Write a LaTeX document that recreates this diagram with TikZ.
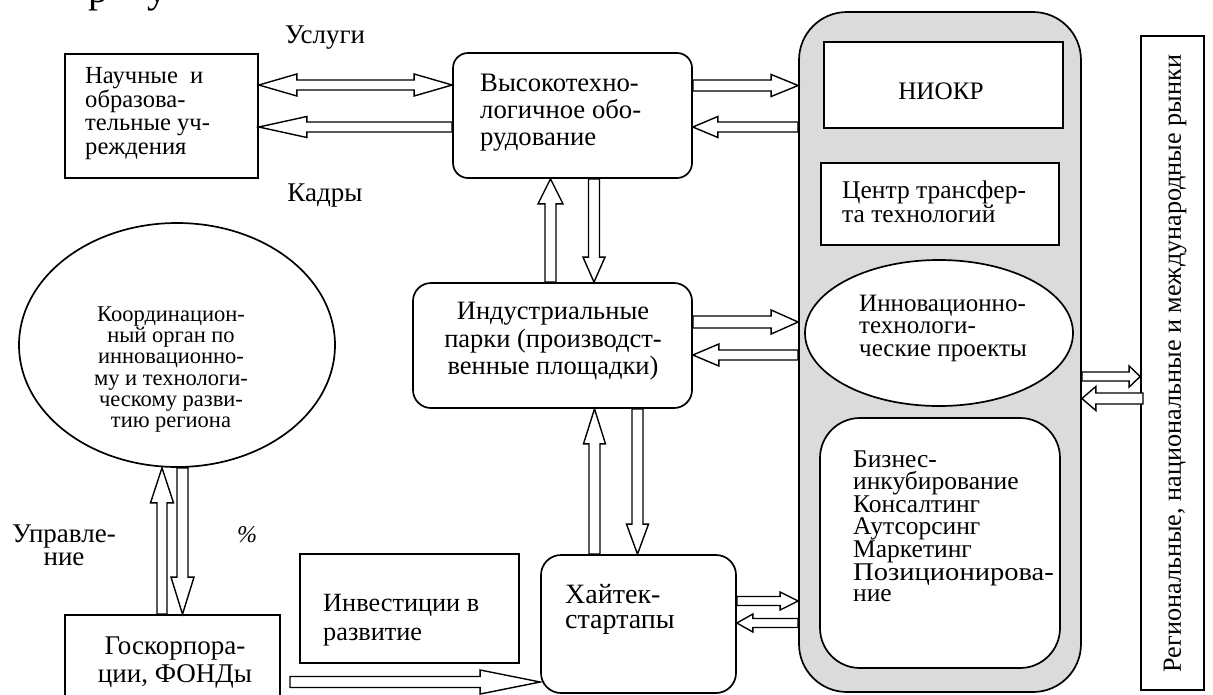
\documentclass[tikz,border=0pt]{standalone}
\usepackage{fontspec}
\setmainfont{Liberation Serif}
\newfontfamily\fntE[FakeStretch=1.12]{Liberation Serif}
\usetikzlibrary{calc,shapes.geometric}
\newcommand\fsz[2]{\fontsize{#1}{#2}\selectfont}
% single-headed fat arrow: start, end(tip), shaft half width, head half width, head length
\newcommand\fatarrow[5]{%
  \path (#1) coordinate (fas);
  \path (#2) coordinate (fae);
  \coordinate (fah) at ($(fae)!#5!(fas)$);
  \draw[fat] ($(fas)!#3!90:(fae)$) -- ($(fah)!#3!90:(fae)$) -- ($(fah)!#4!90:(fae)$) -- (fae)
    -- ($(fah)!#4!-90:(fae)$) -- ($(fah)!#3!-90:(fae)$) -- ($(fas)!#3!-90:(fae)$) -- cycle;
}
% double-headed fat arrow
\newcommand\fatdarrow[5]{%
  \path (#1) coordinate (fas);
  \path (#2) coordinate (fae);
  \coordinate (fha) at ($(fae)!#5!(fas)$);
  \coordinate (fhb) at ($(fas)!#5!(fae)$);
  \draw[fat] (fas) -- ($(fhb)!#4!90:(fae)$) -- ($(fhb)!#3!90:(fae)$) -- ($(fha)!#3!90:(fae)$)
    -- ($(fha)!#4!90:(fae)$) -- (fae) -- ($(fha)!#4!-90:(fae)$) -- ($(fha)!#3!-90:(fae)$)
    -- ($(fhb)!#3!-90:(fae)$) -- ($(fhb)!#4!-90:(fae)$) -- cycle;
}
\begin{document}
\begin{tikzpicture}[x=1pt,y=-1pt,
  shp/.style={draw, line width=1.7pt, fill=white, inner sep=0pt},
  fat/.style={draw, line width=1.4pt, fill=white, line join=miter},
  txt/.style={inner sep=0pt, align=left},
  ctxt/.style={inner sep=0pt, align=center}]
\useasboundingbox (0,0) rectangle (1213,694);

% cut-off heading fragments
\node[inner sep=0pt, anchor=base west, font=\fsz{40}{40}] (frag1) at (88,2) {р};
\node[inner sep=0pt, anchor=base west, font=\fsz{40}{40}] (frag2) at (147,2) {у};

% shapes
\node[shp, fill=black!14, rounded corners=48pt, minimum width=282pt, minimum height=680pt] (grey) at (940,352) {};
\node[shp, minimum width=193pt, minimum height=124pt] (nauch) at (161.5,116) {};
\node[shp, rounded corners=15pt, minimum width=239pt, minimum height=125pt] (vys) at (572.5,115.5) {};
\node[shp, rounded corners=18pt, minimum width=279pt, minimum height=125pt] (ind) at (552.5,345.5) {};
\node[shp, ellipse, minimum width=316pt, minimum height=244pt] (coord) at (177,345) {};
\node[shp, minimum width=215pt, minimum height=105pt] (gosk) at (172.5,667.5) {};
\node[shp, minimum width=219pt, minimum height=109pt] (inv) at (409.5,608.5) {};
\node[shp, rounded corners=20pt, minimum width=195pt, minimum height=138pt] (hai) at (638.5,624) {};
\node[shp, minimum width=239pt, minimum height=86pt] (niokr) at (943.5,85) {};
\node[shp, minimum width=238pt, minimum height=82pt] (ctt) at (940,204) {};
\node[shp, ellipse, minimum width=268pt, minimum height=146pt] (inn) at (939,333) {};
\node[shp, rounded corners=40pt, minimum width=240pt, minimum height=250pt] (biz) at (940,543) {};
\node[shp, minimum width=63pt, minimum height=654pt] (mkt) at (1172.5,363) {};

% texts
\node[txt, anchor=west, font=\fsz{24.6}{23.7}] (t-nauch) at (85,113.6) {Научные\ \ и\\образова-\\тельные уч-\\реждения};
\node[txt, anchor=west, font=\fsz{26.7}{27}] (t-vys) at (480,112.2) {Высокотехно-\\логичное обо-\\рудование};
\node[ctxt, font=\fsz{27}{27}] (t-usl) at (325,37.4) {Услуги};
\node[ctxt, font=\fsz{27}{27}] (t-kad) at (325,196) {Кадры};
\node[ctxt, font=\fsz{22.5}{21.2}] (t-coord) at (171,369.6) {Координацион-\\ный орган по\\инновационно-\\му и технологи-\\ческому разви-\\тию региона};
\node[ctxt, font=\fsz{26.5}{27.5}] (t-ind) at (553,341.2) {Индустриальные\\парки (производст-\\венные площадки)};
\node[ctxt, font=\fsz{25.2}{27}] (t-niokr) at (941,91.5) {НИОКР};
\node[txt, anchor=west, font=\fsz{25.5}{22}] (t-ctt) at (842,202) {Центр трансфер-\\та технологий};
\node[txt, anchor=west, font=\fsz{25}{22.5}] (t-inn) at (859,328) {Инновационно-\\технологи-\\ческие проекты};
\node[txt, anchor=west, font=\fsz{25.5}{21.5}] (t-biz) at (853,526.6) {Бизнес-\\инкубирование\\Консалтинг\\Аутсорсинг\\Маркетинг\\{\fntE Позиционирова-}\\ние};
\node[ctxt, font=\fsz{27}{23}] (t-upr) at (64,545.1) {Управле-\\ние};
\node[ctxt, font=\itshape\fsz{24}{24}] (t-pct) at (247,535) {\%};
\node[ctxt, font=\fsz{27}{28}] (t-gosk) at (175,663) {Госкорпора-\\ции, ФОНДы};
\node[txt, anchor=west, font=\fsz{26.3}{29}] (t-inv) at (323,619.7) {Инвестиции в\\развитие};
\node[txt, anchor=west, font=\fsz{28}{25}] (t-hai) at (565,609.3) {Хайтек-\\стартапы};
\node[ctxt, rotate=90, font=\fsz{26.2}{27}] (t-mkt) at (1175,363.5) {Региональные, национальные и международные рынки};

% connectors
\fatdarrow{nauch.east |- 0,85}{vys.west |- 0,85}{5pt}{11pt}{38pt}
\fatarrow{vys.west |- 0,127}{nauch.east |- 0,127}{5pt}{10.5pt}{48pt}
\fatarrow{vys.east |- 0,85.5}{grey.west |- 0,85.5}{5.5pt}{11pt}{27pt}
\fatarrow{grey.west |- 0,127}{vys.east |- 0,127}{5pt}{10.5pt}{25pt}
\fatarrow{ind.north -| 550.5,0}{vys.south -| 550.5,0}{5.5pt}{12.5pt}{25pt}
\fatarrow{vys.south -| 594,0}{ind.north -| 594,0}{5.5pt}{11pt}{25pt}
\fatarrow{ind.east |- 0,322}{grey.west |- 0,322}{6pt}{12pt}{27pt}
\fatarrow{grey.west |- 0,355}{ind.east |- 0,355}{5pt}{11pt}{26pt}
\fatarrow{hai.north -| 594.5,0}{ind.south -| 594.5,0}{5.5pt}{11pt}{35pt}
\fatarrow{ind.south -| 637.5,0}{hai.north -| 637.5,0}{5.5pt}{11pt}{30pt}
\fatarrow{hai.east |- 0,601}{grey.west |- 0,601}{4.5pt}{9pt}{18pt}
\fatarrow{grey.west |- 0,623}{hai.east |- 0,623}{4.5pt}{9pt}{16pt}
\fatarrow{gosk.north -| 162,0}{coord.south -| 162,0}{5pt}{11.5pt}{35pt}
\fatarrow{coord.south -| 182.5,0}{gosk.north -| 182.5,0}{5.5pt}{11.5pt}{37pt}
\coordinate (invstart) at (290,682);
\fatarrow{invstart}{hai.west |- invstart}{5.5pt}{12pt}{60pt}
\fatarrow{grey.east |- 0,376.5}{mkt.west |- 0,376.5}{4.5pt}{10.5pt}{11pt}
\coordinate (mktin) at (1143,398.5);
\fatarrow{mktin}{grey.east |- mktin}{5.5pt}{12pt}{14pt}
\end{tikzpicture}
\end{document}
